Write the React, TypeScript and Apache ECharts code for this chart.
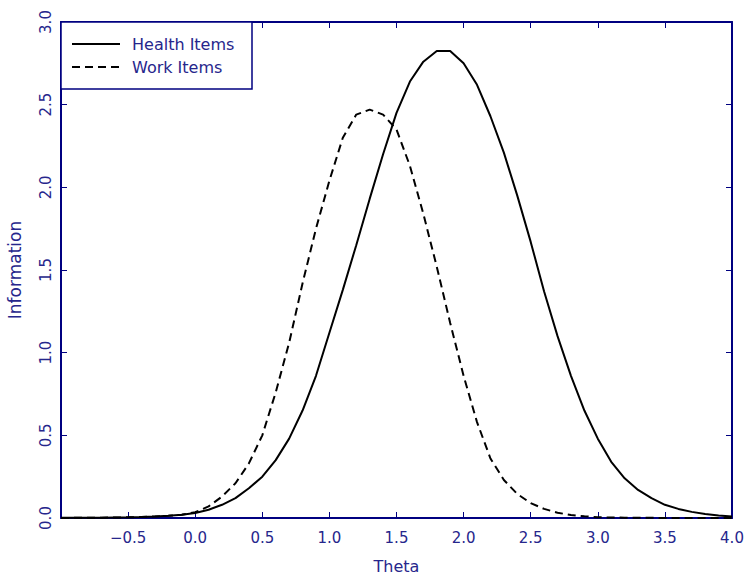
import React, { useEffect, useRef } from "react";
import * as echarts from "echarts";

const thetas = [
  -1.0, -0.9, -0.8, -0.7, -0.6, -0.5, -0.4, -0.3, -0.2, -0.1,
  0.0, 0.1, 0.2, 0.3, 0.4, 0.5, 0.6, 0.7, 0.8, 0.9,
  1.0, 1.1, 1.2, 1.3, 1.4, 1.5, 1.6, 1.7, 1.8, 1.9,
  2.0, 2.1, 2.2, 2.3, 2.4, 2.5, 2.6, 2.7, 2.8, 2.9,
  3.0, 3.1, 3.2, 3.3, 3.4, 3.5, 3.6, 3.7, 3.8, 3.9, 4.0,
];

const healthItems = [
  0.001, 0.001, 0.001, 0.002, 0.003, 0.004, 0.006, 0.009, 0.013, 0.02,
  0.03, 0.05, 0.08, 0.12, 0.18, 0.25, 0.35, 0.48, 0.65, 0.86,
  1.12, 1.38, 1.65, 1.93, 2.2, 2.45, 2.64, 2.76, 2.825, 2.825,
  2.75, 2.62, 2.43, 2.21, 1.95, 1.67, 1.37, 1.1, 0.86, 0.65,
  0.48, 0.34, 0.24, 0.17, 0.12, 0.08, 0.055, 0.037, 0.024, 0.015, 0.009,
];

const workItems = [
  0.0, 0.001, 0.001, 0.002, 0.003, 0.004, 0.006, 0.009, 0.013, 0.02,
  0.035, 0.07, 0.13, 0.21, 0.33, 0.5, 0.76, 1.06, 1.42, 1.75,
  2.04, 2.3, 2.44, 2.47, 2.44, 2.35, 2.13, 1.84, 1.52, 1.18,
  0.86, 0.58, 0.36, 0.23, 0.145, 0.09, 0.055, 0.032, 0.018, 0.01,
  0.005, 0.003, 0.002, 0.001, 0.001, 0.0, 0.0, 0.0, 0.0, 0.0, 0.0,
];

const seriesNames = ["Health Items", "Work Items"];
const xAxisName = "Theta";
const yAxisName = "Information";

const NAVY = "#000080";
const TEXT = "#26268c";
const FONT = "DejaVu Sans";

const fmt = (v: number) => (v < 0 ? "\u2212" + Math.abs(v).toFixed(1) : v.toFixed(1));

export default function App() {
  const ref = useRef<HTMLDivElement>(null);
  useEffect(() => {
    if (!ref.current) return;
    const chart = echarts.init(ref.current, null, { renderer: "svg" });
    const tickStyle = { show: true, inside: true, length: 6, lineStyle: { color: NAVY, width: 1 } };
    const lineStyle = { show: true, onZero: false, lineStyle: { color: NAVY, width: 2 } };
    chart.setOption({
      animation: false,
      backgroundColor: "#ffffff",
      grid: {
        left: 61,
        right: 14,
        top: 22,
        bottom: 59,
        containLabel: false,
        outerBoundsMode: "none",
      },
      legend: {
        data: seriesNames,
        orient: "vertical",
        left: 71,
        top: 36,
        itemWidth: 48,
        itemHeight: 14,
        itemGap: 7,
        padding: 0,
        itemStyle: { opacity: 0, color: "transparent", borderWidth: 0 },
        textStyle: { color: TEXT, fontSize: 16, fontFamily: FONT, padding: [0, 0, 0, 7] },
      },
      graphic: [
        {
          type: "rect",
          z: 1,
          shape: { x: 61, y: 22, width: 191, height: 67 },
          style: { fill: "#ffffff", stroke: NAVY, lineWidth: 1.5 },
        },
      ],
      xAxis: [
        {
          type: "value",
          min: -1,
          max: 4,
          interval: 0.5,
          name: xAxisName,
          nameLocation: "middle",
          nameGap: 40,
          nameTextStyle: { color: TEXT, fontSize: 16, fontFamily: FONT },
          axisLine: lineStyle,
          axisTick: tickStyle,
          splitLine: { show: false },
          axisLabel: {
            color: TEXT,
            fontSize: 15,
            fontFamily: FONT,
            margin: 12,
            formatter: (v: number) => (v === -1 ? "" : fmt(v)),
          },
        },
        {
          type: "value",
          position: "top",
          min: -1,
          max: 4,
          interval: 0.5,
          axisLine: lineStyle,
          axisTick: tickStyle,
          axisLabel: { show: false },
          splitLine: { show: false },
        },
      ],
      yAxis: [
        {
          type: "value",
          min: 0,
          max: 3,
          interval: 0.5,
          name: yAxisName,
          nameLocation: "middle",
          nameGap: 38,
          nameRotate: 90,
          nameTextStyle: { color: TEXT, fontSize: 17, fontFamily: FONT },
          axisLine: lineStyle,
          axisTick: tickStyle,
          splitLine: { show: false },
          axisLabel: {
            color: TEXT,
            fontSize: 15,
            fontFamily: FONT,
            rotate: 90,
            margin: 8,
            formatter: (v: number) => fmt(v),
          },
        },
        {
          type: "value",
          position: "right",
          min: 0,
          max: 3,
          interval: 0.5,
          axisLine: lineStyle,
          axisTick: tickStyle,
          axisLabel: { show: false },
          splitLine: { show: false },
        },
      ],
      series: [
        {
          name: seriesNames[0],
          type: "line",
          data: thetas.map((t, i) => [t, healthItems[i]]),
          symbol: "none",
          smooth: false,
          color: "#000000",
          lineStyle: { color: "#000000", width: 2 },
        },
        {
          name: seriesNames[1],
          type: "line",
          data: thetas.map((t, i) => [t, workItems[i]]),
          symbol: "none",
          smooth: false,
          color: "#000000",
          lineStyle: { color: "#000000", width: 2, type: [8, 5] },
        },
      ],
    });
    return () => chart.dispose();
  }, []);
  return (
    <div
      ref={ref}
      style={{ position: "fixed", left: 0, top: 0, width: 746, height: 577, background: "#fff" }}
    />
  );
}
